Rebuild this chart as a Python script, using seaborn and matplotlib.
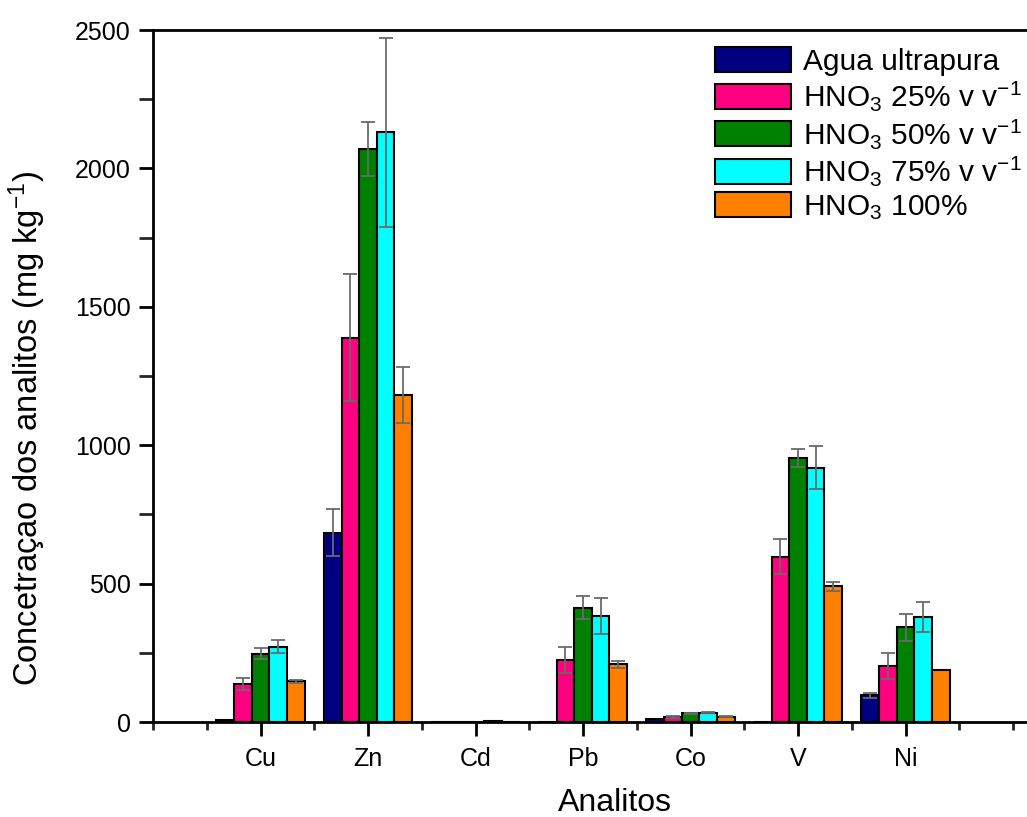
import matplotlib
matplotlib.use("Agg")
import matplotlib.pyplot as plt
import seaborn as sns
import numpy as np
import pandas as pd
from matplotlib.ticker import MultipleLocator

analytes = ["Cu", "Zn", "Cd", "Pb", "Co", "V", "Ni"]
series = ["Agua ultrapura",
          "HNO$_3$ 25% v v$^{-1}$",
          "HNO$_3$ 50% v v$^{-1}$",
          "HNO$_3$ 75% v v$^{-1}$",
          "HNO$_3$ 100%"]

agua = [8, 684, 0.5, 0, 11, 0, 96]
hno3_25 = [137, 1389, 1, 224, 18, 597, 202]
hno3_50 = [247, 2069, 1.5, 413, 31, 953, 342]
hno3_75 = [272, 2130, 4, 383, 34, 918, 379]
hno3_100 = [147, 1180, 1, 208, 19, 491, 189]

err_agua = [0, 84, 0, 0, 0, 0, 10]
err_25 = [21, 228, 0, 46, 2, 64, 46]
err_50 = [20, 98, 0, 42, 3, 33, 48]
err_75 = [24, 342, 0, 66, 3, 78, 55]
err_100 = [6, 101, 0, 12, 2, 16, 0]

colors = ["#000080", "#FF0080", "#008000", "#00FFFF", "#FF8000"]

values = [agua, hno3_25, hno3_50, hno3_75, hno3_100]
errors = [err_agua, err_25, err_50, err_75, err_100]

rows = []
for s, vals in zip(series, values):
    for a, v in zip(analytes, vals):
        rows.append({"Analitos": a, "Serie": s, "Valor": v})
df = pd.DataFrame(rows)

sns.set_theme(style="ticks")
plt.rcParams["font.family"] = ["Liberation Sans", "DejaVu Sans"]
plt.rcParams["mathtext.fontset"] = "custom"
plt.rcParams["mathtext.rm"] = "Liberation Sans"
plt.rcParams["mathtext.it"] = "Liberation Sans:italic"
plt.rcParams["mathtext.bf"] = "Liberation Sans:bold"
plt.rcParams["text.color"] = "black"
plt.rcParams["axes.labelcolor"] = "black"

fig = plt.figure(figsize=(10.27, 8.17), dpi=100)
ax_left = 153 / 1027
ax_bottom = 1 - 722 / 817
ax_height = (722 - 30) / 817
unit = 107.5 / 1027
ax_width = unit * 8.6
ax = fig.add_axes([ax_left, ax_bottom, ax_width, ax_height])

sns.barplot(data=df, x="Analitos", y="Valor", hue="Serie",
            order=analytes, hue_order=series, palette=colors,
            width=0.82, edgecolor="black", linewidth=1.5,
            saturation=1, errorbar=None, ax=ax, legend=True)

for cont, errs in zip(ax.containers, errors):
    xs, ys, es = [], [], []
    for patch, e in zip(cont.patches, errs):
        if e > 0:
            xs.append(patch.get_x() + patch.get_width() / 2)
            ys.append(patch.get_height())
            es.append(e)
    if xs:
        ax.errorbar(xs, ys, yerr=es, fmt="none", ecolor="#6a6a6a",
                    elinewidth=1.3, capsize=5, capthick=1.3, zorder=5)

ax.set_xlim(-1.0, 7.6)
ax.set_ylim(0, 2500)
ax.yaxis.set_major_locator(MultipleLocator(500))
ax.yaxis.set_minor_locator(MultipleLocator(250))
ax.xaxis.set_minor_locator(MultipleLocator(0.5))

for side in ["left", "top", "bottom", "right"]:
    ax.spines[side].set_linewidth(2)
    ax.spines[side].set_color("black")

ax.tick_params(axis="both", which="major", direction="out", length=10,
               width=2, labelsize=18, colors="black")
ax.tick_params(axis="x", which="minor", direction="out", length=6, width=2)
ax.tick_params(axis="y", which="minor", direction="out", length=10, width=2)
ax.tick_params(axis="x", which="major", pad=8)
ax.tick_params(axis="y", which="major", pad=6)

ax.set_xlabel("Analitos", fontsize=23, labelpad=12, color="black")
ax.set_ylabel("Concetraçao dos analitos (mg kg$^{-1}$)", fontsize=23.5,
              color="black")
ax.yaxis.set_label_coords((48 - 153) / (ax_width * 1027), (722 - 428) / 692)

handles, labels = ax.get_legend_handles_labels()
leg = ax.legend(handles, labels, loc="upper left",
                bbox_to_anchor=(715 / 1027, 1 - 47 / 817),
                bbox_transform=fig.transFigure, frameon=False,
                fontsize=21.5, handlelength=2.55, handleheight=0.9,
                labelspacing=0.12, handletextpad=0.4, borderaxespad=0,
                borderpad=0)
for t in leg.get_texts():
    t.set_color("black")
for h in leg.legend_handles:
    h.set_edgecolor("black")
    h.set_linewidth(1.5)

fig.savefig("out.png", dpi=100)
